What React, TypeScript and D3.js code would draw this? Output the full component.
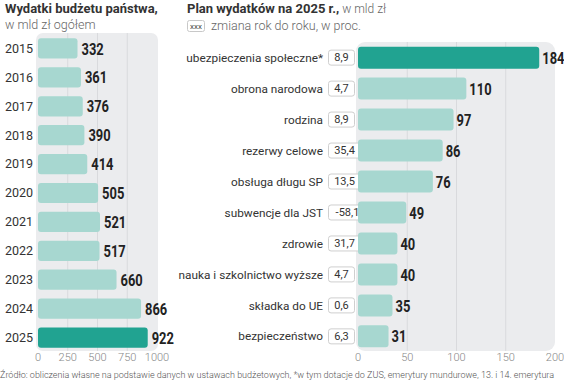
import React from "react";
import * as d3 from "d3";

const years = ["2015","2016","2017","2018","2019","2020","2021","2022","2023","2024","2025"];
const totals = [332,361,376,390,414,505,521,517,660,866,922];
const leftTicks = [0,250,500,750,1000];

const categories = ["ubezpieczenia społeczne*","obrona narodowa","rodzina","rezerwy celowe","obsługa długu SP","subwencje dla JST","zdrowie","nauka i szkolnictwo wyższe","składka do UE","bezpieczeństwo"];
const spending = [184,110,97,86,76,49,40,40,35,31];
const changes = ["8,9","4,7","8,9","35,4","13,5","-58,1","31,7","4,7","0,6","6,3"];
const rightTicks = [0,50,100,150,200];

const W = 564, H = 390;
const DARK = "#21a391";
const LIGHT = "#a7d7d0";
const PANEL = "#ebecee";
const GRID = "#d9dadd";
const FONT = "Roboto, 'Open Sans', sans-serif";
const NUMFONT = "Roboto, sans-serif";

function Num({ x, y, v }: { x: number; y: number; v: number }) {
  return (
    <text transform={`translate(${x},${y}) scale(0.76,1)`} dy="0.36em" fontFamily={NUMFONT} fontWeight={700} fontSize={17} fill="#222">{v}</text>
  );
}

export default function App() {
  const lx = d3.scaleLinear().domain([0, 1000]).range([38, 157]);
  const ly = d3.scaleBand().domain(years).range([34, 352]).paddingInner(0.3).paddingOuter(0.15);
  const rx = d3.scaleLinear().domain([0, 200]).range([358, 555]);
  const ry = d3.scaleBand().domain(categories).range([42, 352]).paddingInner(0.29).paddingOuter(0.15);

  return (
    <div style={{ position: "absolute", left: 0, top: 0 }}>
      <svg width={W} height={H} style={{ display: "block", background: "#fff" }}>
        <text x={5} y={13} fontFamily={FONT} fontWeight={700} fontSize={13} fill="#333">Wydatki budżetu państwa,</text>
        <text x={5} y={29} fontFamily={FONT} fontWeight={300} fontSize={12.5} fill="#666">w mld zł ogółem</text>

        <rect x={36} y={33} width={122} height={318} rx={7} fill={PANEL} />
        {leftTicks.slice(1, -1).map(t => (
          <line key={t} x1={lx(t)} x2={lx(t)} y1={33} y2={351} stroke={GRID} strokeWidth={1} />
        ))}
        {years.map((y, i) => (
          <g key={y}>
            <text x={5} y={ly(y)! + ly.bandwidth() / 2} dy="0.35em" fontFamily={FONT} fontSize={12.5} fill="#333">{y}</text>
            <rect x={lx(0)} y={ly(y)!} width={lx(totals[i]) - lx(0)} height={ly.bandwidth()} rx={3}
              fill={i === years.length - 1 ? DARK : LIGHT} />
            <Num x={lx(totals[i]) + 4} y={ly(y)! + ly.bandwidth() / 2} v={totals[i]} />
          </g>
        ))}
        {leftTicks.map(t => (
          <text key={t} x={lx(t)} y={361} textAnchor="middle" fontFamily={FONT} fontWeight={300} fontSize={11} fill="#888">{t}</text>
        ))}

        <text x={187} y={13} fontFamily={FONT} fontSize={13} fill="#333">
          <tspan fontWeight={700}>Plan wydatków na 2025 r.,</tspan>
          <tspan fontWeight={300} fill="#666" fontSize={12}> w mld zł</tspan>
        </text>
        <rect x={187.5} y={20.5} width={17} height={11} rx={2} fill="#fff" stroke="#c8c8c8" />
        <text x={196} y={26} dy="0.35em" textAnchor="middle" fontFamily={FONT} fontSize={8} fill="#444">xxx</text>
        <text x={211} y={30} fontFamily={FONT} fontWeight={300} fontSize={12.5} fill="#666">zmiana rok do roku, w proc.</text>

        <rect x={356} y={42} width={199} height={309} rx={9} fill={PANEL} />
        {rightTicks.slice(1, -1).map(t => (
          <line key={t} x1={rx(t)} x2={rx(t)} y1={42} y2={351} stroke={GRID} strokeWidth={1} />
        ))}
        {categories.map((c, i) => {
          const cy = ry(c)! + ry.bandwidth() / 2;
          const bw = changes[i].length * 6 + 8;
          return (
            <g key={c}>
              <text x={323} y={cy} dy="0.35em" textAnchor="end" fontFamily={FONT} fontSize={11.8} fill="#333">{c}</text>
              <rect x={328.5} y={cy - 7.5} width={bw} height={15} rx={2.5} fill="#fff" stroke="#cfcfcf" />
              <text x={328.5 + bw / 2} y={cy} dy="0.35em" textAnchor="middle" fontFamily={FONT} fontSize={11} fill="#333">{changes[i]}</text>
              <rect x={rx(0)} y={ry(c)!} width={rx(spending[i]) - rx(0)} height={ry.bandwidth()} rx={3}
                fill={i === 0 ? DARK : LIGHT} />
              <Num x={rx(spending[i]) + 3} y={cy} v={spending[i]} />
            </g>
          );
        })}
        {rightTicks.map(t => (
          <text key={t} x={rx(t)} y={361} textAnchor="middle" fontFamily={FONT} fontWeight={300} fontSize={11} fill="#888">{t}</text>
        ))}

        <text x={0} y={378} fontFamily={FONT} fontWeight={300} fontSize={9} fill="#555">Źródło: obliczenia własne na podstawie danych w ustawach budżetowych, *w tym dotacje do ZUS, emerytury mundurowe, 13. i 14. emerytura</text>
      </svg>
    </div>
  );
}
